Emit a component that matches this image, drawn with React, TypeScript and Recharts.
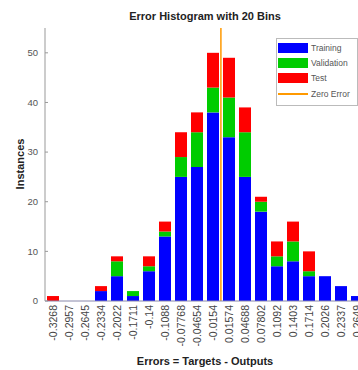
import { Bar, BarChart, ReferenceLine, XAxis, YAxis } from "recharts";

const binLabels = [
  "-0.3268", "-0.2957", "-0.2645", "-0.2334", "-0.2022", "-0.1711", "-0.14",
  "-0.1088", "-0.07768", "-0.04654", "-0.0154", "0.01574", "0.04688", "0.07802",
  "0.1092", "0.1403", "0.1714", "0.2026", "0.2337", "0.2649",
];
const binCenters = binLabels.map(Number);
const training = [0, 0, 0, 2, 5, 1, 6, 13, 25, 27, 38, 33, 25, 18, 7, 8, 5, 5, 3, 1];
const validation = [0, 0, 0, 0, 3, 1, 1, 1, 4, 7, 5, 8, 9, 2, 2, 4, 1, 0, 0, 0];
const test = [1, 0, 0, 1, 1, 0, 2, 2, 5, 4, 7, 8, 5, 1, 3, 4, 4, 0, 0, 0];
const yTicks = [0, 10, 20, 30, 40, 50];
const zeroError = 0;

const series = [
  { key: "training", name: "Training", color: "#0000ff" },
  { key: "validation", name: "Validation", color: "#00cc00" },
  { key: "test", name: "Test", color: "#ff0000" },
];
const zeroColor = "#ff9900";

const data = binLabels.map((bin, i) => ({
  bin,
  center: binCenters[i],
  training: training[i],
  validation: validation[i],
  test: test[i],
}));

const halfBin = (binCenters[1] - binCenters[0]) / 2;
const errDomain = [binCenters[0] - halfBin, binCenters[binCenters.length - 1] + halfBin];

const font = "'Liberation Sans', Arial, sans-serif";

function XTick({ x, y, payload }: any) {
  return (
    <text
      x={x}
      y={y}
      transform={`rotate(-90 ${x} ${y})`}
      textAnchor="end"
      dy="0.35em"
      fontSize={10.5}
      fontFamily={font}
      fill="#444"
    >
      {payload.value}
    </text>
  );
}

export default function App() {
  return (
    <div
      style={{
        position: "absolute",
        left: 0,
        top: 0,
        width: 358,
        height: 370,
        overflow: "hidden",
        background: "#fff",
        fontFamily: font,
      }}
    >
      <BarChart
        width={372}
        height={370}
        data={data}
        margin={{ top: 28, right: 7, bottom: 0, left: 0 }}
        style={{ position: "absolute", left: 0, top: 0 }}
      >
        <XAxis
          dataKey="bin"
          height={69}
          interval={0}
          tick={<XTick />}
          tickLine={false}
          tickSize={2}
          tickMargin={2}
          stroke="#8888aa"
        />
        <XAxis
          xAxisId="err"
          dataKey="center"
          type="number"
          domain={errDomain}
          allowDataOverflow
          hide
        />
        <YAxis
          width={45}
          domain={[0, 55]}
          ticks={yTicks}
          tickSize={-3}
          tickMargin={10}
          stroke="#999"
          tick={{ fontSize: 9.5, fill: "#555", fontFamily: font }}
        />
        {series.map((s) => (
          <Bar
            key={s.key}
            dataKey={s.key}
            name={s.name}
            stackId="err"
            fill={s.color}
            barSize={12}
            isAnimationActive={false}
          />
        ))}
        <ReferenceLine xAxisId="err" x={zeroError} stroke={zeroColor} strokeWidth={1.5} />
      </BarChart>

      <div
        style={{
          position: "absolute",
          left: 45,
          width: 320,
          top: 10,
          textAlign: "center",
          fontSize: 11,
          fontWeight: "bold",
          color: "#222",
        }}
      >
        Error Histogram with 20 Bins
      </div>
      <div
        style={{
          position: "absolute",
          left: 45,
          width: 320,
          top: 355,
          textAlign: "center",
          fontSize: 11,
          fontWeight: "bold",
          color: "#222",
        }}
      >
        Errors = Targets - Outputs
      </div>
      <div
        style={{
          position: "absolute",
          left: 20,
          top: 164,
          transform: "translate(-50%, -50%) rotate(-90deg)",
          fontSize: 11,
          fontWeight: "bold",
          color: "#222",
          whiteSpace: "nowrap",
        }}
      >
        Instances
      </div>

      <div
        style={{
          position: "absolute",
          left: 276,
          top: 38,
          width: 80,
          height: 66,
          border: "1px solid #bbb",
          background: "#fff",
          fontSize: 8.5,
          color: "#555",
        }}
      >
        {series.map((s, i) => (
          <div
            key={s.key}
            style={{ position: "absolute", left: 1, top: 4 + i * 15, height: 10, display: "flex", alignItems: "center" }}
          >
            <span style={{ display: "inline-block", width: 30, height: 10, background: s.color }} />
            <span style={{ marginLeft: 3, whiteSpace: "nowrap" }}>{s.name}</span>
          </div>
        ))}
        <div style={{ position: "absolute", left: 1, top: 50, height: 10, display: "flex", alignItems: "center" }}>
          <span style={{ display: "inline-block", width: 30, height: 1.5, background: zeroColor }} />
          <span style={{ marginLeft: 3, whiteSpace: "nowrap" }}>Zero Error</span>
        </div>
      </div>
    </div>
  );
}
